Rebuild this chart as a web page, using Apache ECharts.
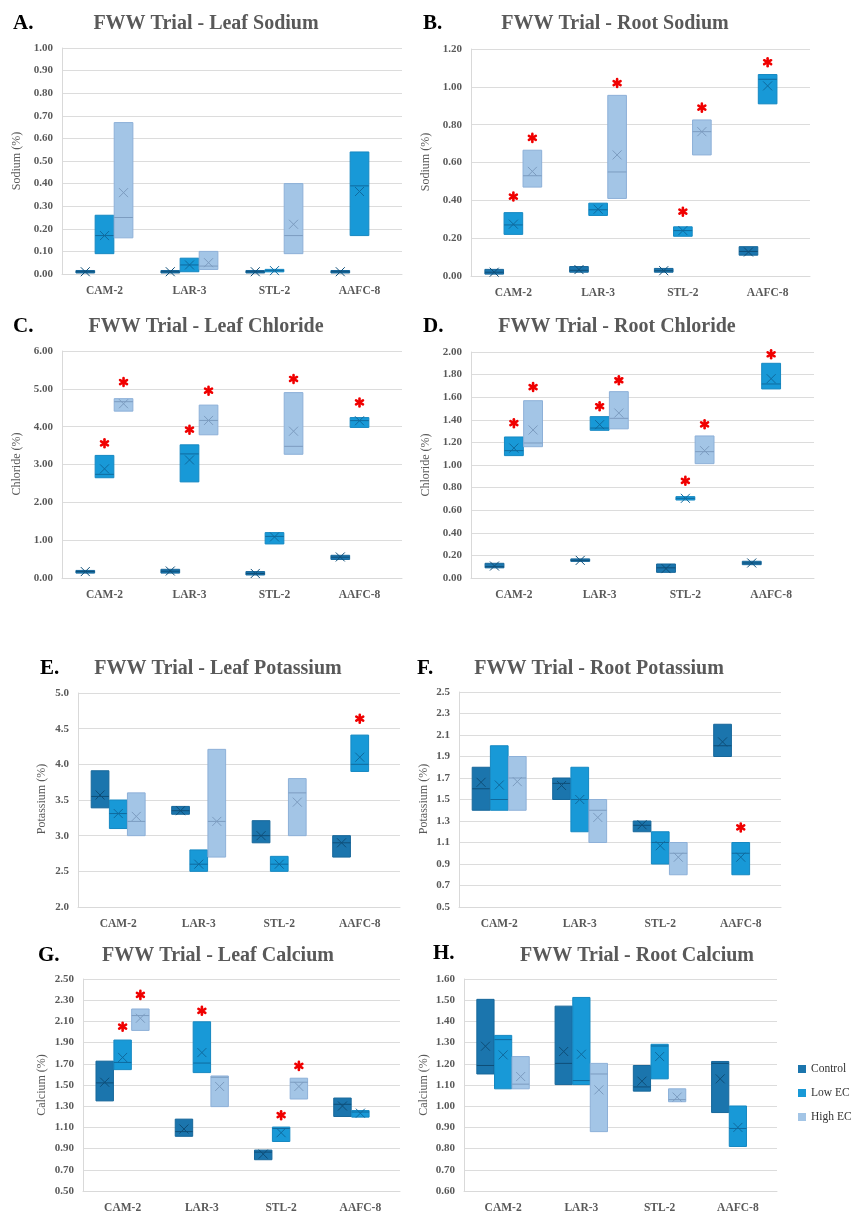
<!DOCTYPE html>
<html><head><meta charset="utf-8">
<script src="https://cdn.jsdelivr.net/npm/echarts@6/dist/echarts.min.js"></script>
<style>html,body{margin:0;padding:0;background:#fff}#c{width:851px;height:1214px}</style>
</head><body><div id="c"></div>
<script>
const categories = ['CAM-2', 'LAR-3', 'STL-2', 'AAFC-8'];
const treatments = ['Control', 'Low EC', 'High EC'];
// each entry: [low, median, high, mean] per category; null = not measured

// A. Leaf Sodium
const leafNa_control = [[0.01,0.01,0.01,0.01],[0.01,0.01,0.01,0.01],[0.01,0.01,0.01,0.01],[0.01,0.01,0.01,0.01]];
const leafNa_low = [[0.09,0.17,0.26,0.17],[0.01,0.04,0.07,0.04],[0.01,0.015,0.02,0.015],[0.17,0.39,0.54,0.365]];
const leafNa_high = [[0.16,0.25,0.67,0.36],[0.02,0.035,0.10,0.05],[0.09,0.17,0.40,0.22],null];
const leafNa_stars = [];

// B. Root Sodium
const rootNa_control = [[0.01,0.02,0.035,0.02],[0.02,0.03,0.05,0.034],[0.02,0.028,0.04,0.028],[0.11,0.13,0.155,0.127]];
const rootNa_low = [[0.22,0.27,0.335,0.274],[0.32,0.35,0.385,0.353],[0.21,0.24,0.26,0.24],[0.91,1.04,1.065,1.005]];
const rootNa_high = [[0.47,0.53,0.665,0.553],[0.41,0.55,0.955,0.64],[0.64,0.763,0.825,0.763],null];
const rootNa_stars = [[0,1,0.42],[0,2,0.73],[1,2,1.02],[2,1,0.34],[2,2,0.89],[3,1,1.13]];

// C. Leaf Chloride
const leafCl_control = [[0.13,0.17,0.20,0.17],[0.13,0.18,0.23,0.185],[0.08,0.12,0.17,0.12],[0.49,0.55,0.60,0.556]];
const leafCl_low = [[2.65,2.74,3.24,2.885],[2.54,3.28,3.52,3.12],[0.90,1.10,1.20,1.085],[3.98,4.16,4.24,4.156]];
const leafCl_high = [[4.41,4.66,4.74,4.606],[3.785,4.165,4.57,4.165],[3.27,3.48,4.90,3.88],null];
const leafCl_stars = [[0,1,3.56],[0,2,5.18],[1,1,3.92],[1,2,4.95],[2,2,5.26],[3,1,4.64]];

// D. Root Chloride
const rootCl_control = [[0.09,0.10,0.13,0.106],[0.148,0.156,0.168,0.156],[0.05,0.09,0.124,0.083],[0.118,0.133,0.148,0.133]];
const rootCl_low = [[1.083,1.127,1.248,1.15],[1.307,1.327,1.428,1.357],[0.69,0.705,0.72,0.705],[1.673,1.717,1.90,1.764]];
const rootCl_high = [[1.162,1.195,1.569,1.31],[1.32,1.413,1.649,1.46],[1.012,1.118,1.257,1.127],null];
const rootCl_stars = [[0,1,1.37],[0,2,1.69],[1,1,1.52],[1,2,1.75],[2,1,0.86],[2,2,1.36],[3,1,1.98]];

// E. Leaf Potassium
const leafK_control = [[3.39,3.55,3.91,3.57],[3.30,3.35,3.41,3.35],[2.90,3.0,3.21,3.0],[2.70,2.90,3.0,2.9]];
const leafK_low = [[3.10,3.31,3.50,3.31],[2.50,2.60,2.80,2.60],[2.50,2.60,2.71,2.60],[3.90,4.0,4.41,4.10]];
const leafK_high = [[3.0,3.20,3.60,3.27],[2.70,3.20,4.21,3.20],[3.0,3.60,3.80,3.47],null];
const leafK_stars = [[3,1,4.64]];

// F. Root Potassium
const rootK_control = [[1.40,1.60,1.80,1.66],[1.50,1.65,1.70,1.63],[1.20,1.26,1.30,1.265],[1.90,2.0,2.20,2.036]];
const rootK_low = [[1.40,1.50,2.0,1.635],[1.20,1.50,1.80,1.50],[0.90,1.10,1.20,1.07],[0.80,1.0,1.10,0.963]];
const rootK_high = [[1.40,1.70,1.90,1.666],[1.10,1.40,1.50,1.333],[0.80,1.0,1.10,0.963],null];
const rootK_stars = [[3,1,1.24]];

// G. Leaf Calcium
const leafCa_control = [[1.35,1.52,1.725,1.526],[1.016,1.06,1.178,1.085],[0.795,0.867,0.886,0.848],[1.203,1.318,1.377,1.302]];
const leafCa_low = [[1.645,1.713,1.924,1.76],[1.617,1.707,2.096,1.806],[0.967,1.09,1.103,1.05],[1.197,1.245,1.259,1.234]];
const leafCa_high = [[2.015,2.155,2.217,2.13],[1.296,1.573,1.585,1.486],[1.368,1.526,1.564,1.486],null];
const leafCa_stars = [[0,1,2.05],[0,2,2.35],[1,1,2.20],[2,1,1.215],[2,2,1.68]];

// H. Root Calcium
const rootCa_control = [[1.152,1.192,1.504,1.283],[1.102,1.202,1.472,1.258],[1.071,1.091,1.192,1.118],[0.97,1.202,1.211,1.129]];
const rootCa_low = [[1.082,1.314,1.334,1.242],[1.102,1.121,1.513,1.245],[1.129,1.284,1.292,1.234],[0.81,0.895,1.001,0.90]];
const rootCa_high = [[1.082,1.104,1.234,1.14],[0.88,1.152,1.202,1.077],[1.021,1.031,1.082,1.043],null];
const rootCa_stars = [];

const FONT = '"Liberation Serif", "DejaVu Serif", serif';
const styles = [
  {fill:'#1b75ad', stroke:'#17679a', dark:'#0e4e78'},
  {fill:'#1899d7', stroke:'#1588c2', dark:'#0f6a9e'},
  {fill:'#a3c5e6', stroke:'#8db0d8', dark:'#7c9cc0'}
];
const offsets = [-0.226, 0, 0.224];

const panels = [
  {letter:'A.', title:'FWW Trial - Leaf Sodium', yName:'Sodium (%)', min:0, max:1, interval:0.1, dec:2,
   sets:[leafNa_control, leafNa_low, leafNa_high], stars:leafNa_stars,
   grid:{left:62, top:48, width:340, height:226}, tx:206, ty:24, lx:13, ly:24, nx:17, ny:161},
  {letter:'B.', title:'FWW Trial - Root Sodium', yName:'Sodium (%)', min:0, max:1.2, interval:0.2, dec:2,
   sets:[rootNa_control, rootNa_low, rootNa_high], stars:rootNa_stars,
   grid:{left:471, top:49, width:339, height:227}, tx:615, ty:24, lx:423, ly:24, nx:426, ny:162},
  {letter:'C.', title:'FWW Trial - Leaf Chloride', yName:'Chloride (%)', min:0, max:6, interval:1, dec:2,
   sets:[leafCl_control, leafCl_low, leafCl_high], stars:leafCl_stars,
   grid:{left:62, top:351, width:340, height:227}, tx:206, ty:327, lx:13, ly:327, nx:17, ny:464},
  {letter:'D.', title:'FWW Trial - Root Chloride', yName:'Chloride (%)', min:0, max:2, interval:0.2, dec:2,
   sets:[rootCl_control, rootCl_low, rootCl_high], stars:rootCl_stars,
   grid:{left:471, top:352, width:343, height:226}, tx:617, ty:327, lx:423, ly:327, nx:426, ny:465},
  {letter:'E.', title:'FWW Trial - Leaf Potassium', yName:'Potassium (%)', min:2, max:5, interval:0.5, dec:1,
   sets:[leafK_control, leafK_low, leafK_high], stars:leafK_stars,
   grid:{left:78, top:693, width:322, height:214}, tx:218, ty:669, lx:40, ly:669, nx:42, ny:799},
  {letter:'F.', title:'FWW Trial - Root Potassium', yName:'Potassium (%)', min:0.5, max:2.5, interval:0.2, dec:1,
   sets:[rootK_control, rootK_low, rootK_high], stars:rootK_stars,
   grid:{left:459, top:692, width:322, height:215}, tx:599, ty:669, lx:417, ly:669, nx:424, ny:799},
  {letter:'G.', title:'FWW Trial - Leaf Calcium', yName:'Calcium (%)', min:0.5, max:2.5, interval:0.2, dec:2,
   sets:[leafCa_control, leafCa_low, leafCa_high], stars:leafCa_stars,
   grid:{left:83, top:979, width:317, height:214}, tx:218, ty:956, lx:38, ly:956, nx:42, ny:1085},
  {letter:'H.', title:'FWW Trial - Root Calcium', yName:'Calcium (%)', min:0.6, max:1.6, interval:0.1, dec:2,
   sets:[rootCa_control, rootCa_low, rootCa_high], stars:rootCa_stars,
   grid:{left:464, top:979, width:313, height:214}, tx:637, ty:956, lx:433, ly:954, nx:424, ny:1085}
];

function boxRender(ti) {
  const st = styles[ti];
  return function (params, api) {
    const ci = api.value(0);
    const band = api.size([1, 0])[0];
    const pMed = api.coord([ci, api.value(2)]);
    const xc = pMed[0] + offsets[ti] * band;
    const w = 0.22 * band;
    const yLo = api.coord([ci, api.value(1)])[1];
    const yHi = api.coord([ci, api.value(3)])[1];
    const yMean = api.coord([ci, api.value(4)])[1];
    let top = yHi, h = yLo - yHi;
    if (h < 2.5) { top = (yLo + yHi) / 2 - 1.25; h = 2.5; }
    const s = 4.5;
    return {type:'group', children:[
      {type:'rect', shape:{x:xc - w/2, y:top, width:w, height:h}, style:{fill:st.fill, stroke:st.stroke, lineWidth:1}},
      {type:'line', shape:{x1:xc - w/2, y1:pMed[1], x2:xc + w/2, y2:pMed[1]}, style:{stroke:st.dark, lineWidth:1}},
      {type:'line', shape:{x1:xc - s, y1:yMean - s, x2:xc + s, y2:yMean + s}, style:{stroke:st.dark, lineWidth:1}},
      {type:'line', shape:{x1:xc - s, y1:yMean + s, x2:xc + s, y2:yMean - s}, style:{stroke:st.dark, lineWidth:1}}
    ]};
  };
}

function starRender(params, api) {
  const ci = api.value(0), ti = api.value(1);
  const band = api.size([1, 0])[0];
  const p = api.coord([ci, api.value(2)]);
  const xc = p[0] + offsets[ti] * band, yc = p[1];
  const r = 4;
  const children = [];
  for (let k = 0; k < 3; k++) {
    const a = Math.PI / 2 + k * Math.PI / 3;
    children.push({type:'line', shape:{x1:xc - r*Math.cos(a), y1:yc - r*Math.sin(a), x2:xc + r*Math.cos(a), y2:yc + r*Math.sin(a)},
      style:{stroke:'#f00000', lineWidth:2.6, lineCap:'round'}});
  }
  return {type:'group', children};
}

const grids = [], xAxes = [], yAxes = [], series = [], graphics = [];
panels.forEach((p, i) => {
  grids.push(Object.assign({containLabel:false}, p.grid));
  xAxes.push({gridIndex:i, type:'category', data:categories,
    axisLine:{lineStyle:{color:'#d9d9d9', width:1}}, axisTick:{show:false},
    axisLabel:{fontFamily:FONT, fontWeight:'bold', fontSize:11.5, color:'#595959', margin:11}});
  yAxes.push({gridIndex:i, type:'value', min:p.min, max:p.max, interval:p.interval,
    axisLine:{show:true, lineStyle:{color:'#d9d9d9'}}, axisTick:{show:false},
    splitLine:{lineStyle:{color:'#dcdcdc', width:1}},
    axisLabel:{fontFamily:FONT, fontWeight:'bold', fontSize:11, color:'#595959', margin:9,
      formatter: v => Number(v).toFixed(p.dec)}});
  p.sets.forEach((arr, ti) => {
    const data = arr.map((v, ci) => v ? [ci, v[0], v[1], v[2], v[3]] : null).filter(Boolean);
    series.push({type:'custom', name:treatments[ti], xAxisIndex:i, yAxisIndex:i,
      itemStyle:{color:styles[ti].fill}, renderItem:boxRender(ti),
      encode:{x:0, y:[1,2,3,4]}, data, silent:true});
  });
  if (p.stars.length) {
    series.push({type:'custom', xAxisIndex:i, yAxisIndex:i, renderItem:starRender,
      encode:{x:0, y:2}, data:p.stars, silent:true});
  }
  graphics.push({type:'text', x:p.tx, y:p.ty, style:{text:p.title, fontFamily:FONT, fontWeight:'bold', fontSize:20,
    fill:'#595959', align:'center', verticalAlign:'middle'}});
  graphics.push({type:'text', x:p.lx, y:p.ly, style:{text:p.letter, fontFamily:FONT, fontWeight:'bold', fontSize:21,
    fill:'#000000', align:'left', verticalAlign:'middle'}});
  graphics.push({type:'text', x:p.nx, y:p.ny, rotation:Math.PI/2, style:{text:p.yName, fontFamily:FONT, fontSize:12,
    fill:'#595959', align:'center', verticalAlign:'middle'}});
});

const chart = echarts.init(document.getElementById('c'), null, {renderer:'canvas', width:851, height:1214});
chart.setOption({
  animation:false,
  backgroundColor:'#ffffff',
  grid:grids, xAxis:xAxes, yAxis:yAxes, series,
  graphic:graphics,
  legend:{data:treatments, orient:'vertical', left:798, top:1063, padding:0, icon:'rect', itemWidth:8, itemHeight:8, itemGap:12,
    textStyle:{fontFamily:FONT, fontSize:11.5, color:'#333333'}, selectedMode:false}
});
</script></body></html>
